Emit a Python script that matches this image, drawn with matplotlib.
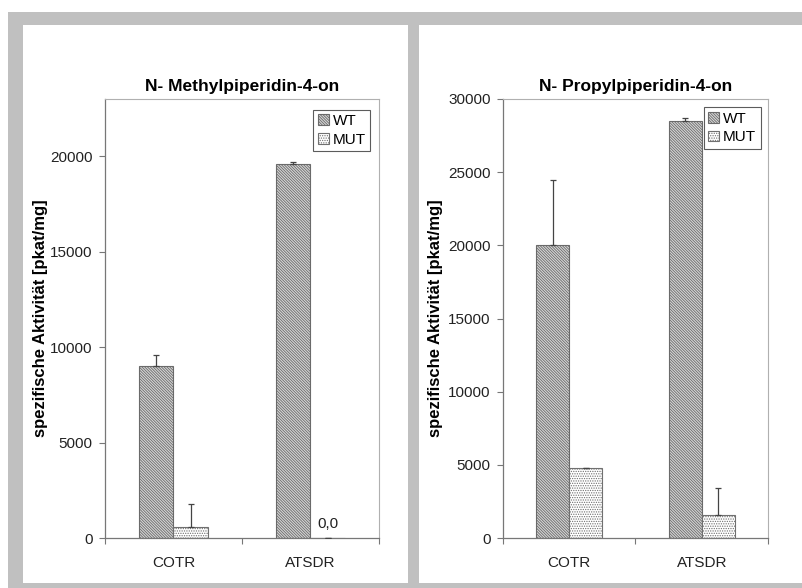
import matplotlib
matplotlib.use("Agg")
import matplotlib.pyplot as plt
from matplotlib.patches import Rectangle, Patch
import numpy as np

plt.rcParams['font.family'] = ['Liberation Sans', 'DejaVu Sans']
plt.rcParams['hatch.linewidth'] = 0.6

categories = ["COTR", "ATSDR"]
series_names = ["WT", "MUT"]

# N-Methylpiperidin-4-on
methyl_wt = [9000, 19620]
methyl_wt_err = [600, 60]
methyl_mut = [600, 0]
methyl_mut_err = [1200, 0]

# N-Propylpiperidin-4-on
propyl_wt = [20000, 28500]
propyl_wt_err = [4450, 200]
propyl_mut = [4800, 1550]
propyl_mut_err = [0, 1900]

titles = ["N- Methylpiperidin-4-on", "N- Propylpiperidin-4-on"]
ylabel = "spezifische Aktivität [pkat/mg]"
y_ticks = [[0, 5000, 10000, 15000, 20000], [0, 5000, 10000, 15000, 20000, 25000, 30000]]
y_max = [23000, 30000]

W, H = 803, 588
fig = plt.figure(figsize=(W / 100, H / 100), dpi=100)
fig.patch.set_facecolor("white")

gray = "#c0c0c0"
def px_rect(x0, y0, x1, y1, color):
    fig.patches.append(Rectangle((x0 / W, 1 - y1 / H), (x1 - x0) / W, (y1 - y0) / H,
                                 transform=fig.transFigure, facecolor=color,
                                 edgecolor="none", zorder=0))

# frame around the two panels
px_rect(8, 12, W, 25, gray)
px_rect(8, 12, 23, H, gray)
px_rect(408, 12, 419, H, gray)
px_rect(8, 583, W, H, gray)

axes_px = [(105, 99, 379, 538), (503, 99, 768, 538)]
label_x = [-0.208, -0.226]
legend_anchor = [(0.99, 0.99), (0.995, 0.995)]

wt_style = dict(facecolor="#d6d6d6", edgecolor="#6a6a6a", hatch="\\" * 12, linewidth=0.8)
mut_style = dict(facecolor="white", edgecolor="#707070", hatch="." * 7, linewidth=0.8)

data = [
    (methyl_wt, methyl_wt_err, methyl_mut, methyl_mut_err),
    (propyl_wt, propyl_wt_err, propyl_mut, propyl_mut_err),
]

fs_tick = 11
bw = 0.25
x = np.arange(len(categories))
for i, (x0, y0, x1, y1) in enumerate(axes_px):
    ax = fig.add_axes([x0 / W, 1 - y1 / H, (x1 - x0) / W, (y1 - y0) / H])
    wt, wt_err, mut, mut_err = data[i]
    ax.bar(x - bw / 2, wt, bw, **wt_style, zorder=2)
    ax.bar(x + bw / 2, mut, bw, **mut_style, zorder=2)
    ax.errorbar(x - bw / 2, wt, yerr=[np.zeros(len(wt)), wt_err], fmt="none",
                ecolor="#444444", elinewidth=0.9, capsize=2.5, capthick=0.9, zorder=3)
    ax.errorbar(x + bw / 2, mut, yerr=[np.zeros(len(mut)), mut_err], fmt="none",
                ecolor="#444444", elinewidth=0.9, capsize=2.5, capthick=0.9, zorder=3)
    for xi, v in zip(x, mut):
        if v == 0:
            ax.text(xi + bw / 2, y_max[i] * 0.015, "0,0", ha="center", va="bottom",
                    fontsize=fs_tick, color="#222222")

    ax.set_xlim(-0.5, len(categories) - 0.5)
    ax.set_ylim(0, y_max[i])
    ax.set_yticks(y_ticks[i])
    ax.set_xticks(x)
    ax.set_xticklabels(categories)
    ax.set_xticks(np.arange(-0.5, len(categories)), minor=True)
    ax.tick_params(axis="x", which="major", length=0, pad=13, labelsize=fs_tick,
                   labelcolor="#222222")
    ax.tick_params(axis="x", which="minor", length=4, width=0.8, color="#777777",
                   direction="out")
    ax.tick_params(axis="y", length=4, width=0.8, color="#777777", pad=5,
                   labelsize=fs_tick, labelcolor="#222222")
    for side in ("top", "right"):
        ax.spines[side].set_color("#b0b0b0")
        ax.spines[side].set_linewidth(0.8)
    for side in ("left", "bottom"):
        ax.spines[side].set_color("#777777")
        ax.spines[side].set_linewidth(0.9)

    ax.set_title(titles[i], fontsize=12.5, fontweight="bold", pad=6)
    ax.set_ylabel(ylabel, fontsize=12, fontweight="bold")
    ax.yaxis.set_label_coords(label_x[i], 0.5)

    handles = [Patch(**wt_style), Patch(**mut_style)]
    leg = ax.legend(handles, series_names, loc="upper right", fontsize=fs_tick,
                    frameon=True, fancybox=False, handlelength=0.7, handleheight=0.7,
                    handletextpad=0.25, borderpad=0.3, labelspacing=0.3,
                    borderaxespad=0.4, bbox_to_anchor=legend_anchor[i])
    leg.get_frame().set_edgecolor("#333333")
    leg.get_frame().set_linewidth(0.8)

fig.savefig("out.png", dpi=100)
